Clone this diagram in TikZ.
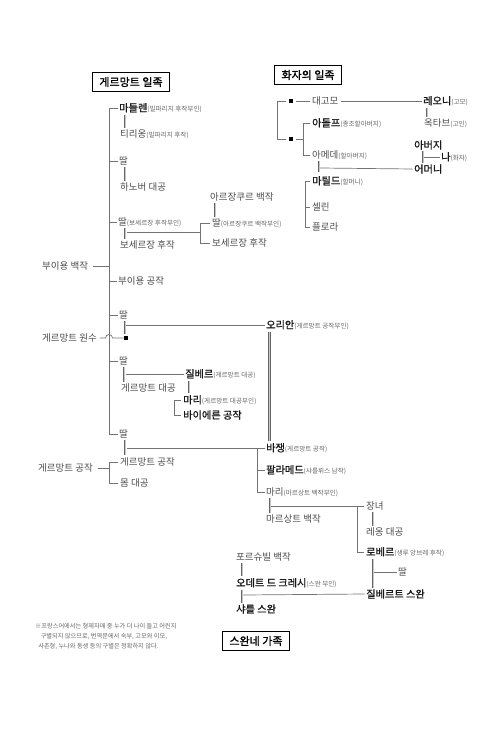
\documentclass[tikz,border=0pt]{standalone}
\usepackage{fontspec}
\setmainfont{Noto Sans CJK KR}[BoldFont={Noto Sans CJK KR}, BoldFeatures={FakeBold=1.2}]
\usepackage{tikz}
\usetikzlibrary{calc,positioning}
\newcommand{\sm}[1]{{\fontsize{6.6}{7}\selectfont\mdseries\color{black!60}(#1)}}

\begin{document}
\begin{tikzpicture}[x=1pt, y=-1pt,
  nm/.style={anchor=west, inner sep=0pt, font=\fontsize{10.2}{11}\selectfont\bfseries, text=black!90},
  gr/.style={anchor=west, inner sep=0pt, font=\fontsize{9.5}{11}\selectfont, text=black!70},
  title/.style={draw, line width=1pt, inner xsep=7pt, inner ysep=4.5pt, font=\fontsize{11}{12}\selectfont\bfseries},
  sq/.style={fill=black, minimum size=4.5pt, inner sep=0pt},
  ln/.style={draw=black!55, line width=0.7pt},
  wed/.style={draw=black!60, double=black!22, double distance=1pt, line width=0.8pt},
  note/.style={anchor=north west, inner sep=0pt, align=left, text=black!60, font=\fontsize{6.2}{10}\selectfont},
]
\useasboundingbox (0,0) rectangle (500,735);

% Titles
\node[title] (tG) at (131,82) {게르망트 일족};
\node[title] (tN) at (308,75) {화자의 일족};
\node[title] (tS) at (256,641) {스완네 가족};

% Guermantes
\node[nm] (madeleine) at (119,108) {마들렌\sm{빌파리지 후작부인}};
\node[gr] (thiriong) at (120,134) {티리옹\sm{빌파리지 후작}};
\node[gr] (ddalA) at (119,161) {딸};
\node[gr] (hanover) at (120,187) {하노버 대공};
\node[gr] (ddalB) at (118,222) {딸\sm{보세르장 후작부인}};
\node[gr] (beausergentL) at (120,245) {보세르장 후작};
\node[gr] (argencourt) at (210,197) {아르장쿠르 백작};
\node[gr] (ddalC) at (212,223) {딸\sm{아르장쿠르 백작부인}};
\node[gr] (beausergentR) at (212,243) {보세르장 후작};
\node[gr] (bouillonC) at (42,266) {부이용 백작};
\node[gr] (bouillonD) at (118,281) {부이용 공작};
\node[gr] (ddalD) at (119,315) {딸};
\node[gr] (marechal) at (42,338) {게르망트 원수};
\node[sq] (sqG) at (126,338) {};
\node[gr] (ddalE) at (119,361) {딸};
\node[gr] (princeG) at (121,388) {게르망트 대공};
\node[nm] (gilbertG) at (185,374) {질베르\sm{게르망트 대공}};
\node[nm] (marieG) at (183,400) {마리\sm{게르망트 대공부인}};
\node[nm] (bavaria) at (183,415) {바이에른 공작};
\node[gr] (ddalF) at (119,434) {딸};
\node[gr] (ducL) at (38,468) {게르망트 공작};
\node[gr] (ducG) at (120,462) {게르망트 공작};
\node[gr] (mum) at (120,483) {몸 대공};

\node[nm] (oriane) at (266,325) {오리안\sm{게르망트 공작부인}};
\node[nm] (basin) at (266,448) {바쟁\sm{게르망트 공작}};
\node[nm] (palamede) at (266,470) {팔라메드\sm{샤를뤼스 남작}};
\node[gr] (marieM) at (266,492) {마리\sm{마르상트 백작부인}};
\node[gr] (marsantes) at (266,519) {마르상트 백작};
\node[gr] (ainee) at (366,506) {장녀};
\node[gr] (leon) at (366,532) {레옹 대공};
\node[nm] (robert) at (366,552) {로베르\sm{생루 앙브레 후작}};
\node[gr] (ddalG) at (398,572) {딸};
\node[nm] (gilberte) at (366,594) {질베르트 스완};

% Swann
\node[gr] (forcheville) at (236,557) {포르슈빌 백작};
\node[nm] (odette) at (236,583) {오데트 드 크레시\sm{스완 부인}};
\node[nm] (swann) at (236,609) {샤를 스완};

% Narrator
\node[sq] (sq1) at (291,101) {};
\node[sq] (sq2) at (291,139) {};
\node[gr] (tante) at (312,101) {대고모};
\node[nm] (leonie) at (423,101) {레오니\sm{고모}};
\node[gr] (octave) at (424,123) {옥타브\sm{고인}};
\node[nm] (adolphe) at (312,123) {아돌프\sm{종조할아버지}};
\node[gr] (amedee) at (312,155) {아메데\sm{할아버지}};
\node[nm] (pere) at (414,145) {아버지};
\node[nm] (moi) at (441,157) {나\sm{화자}};
\node[nm] (mere) at (414,169) {어머니};
\node[nm] (mathilde) at (312,181) {마틸드\sm{할머니}};
\node[gr] (celine) at (312,207) {셀린};
\node[gr] (flora) at (312,227) {플로라};

% Note
\node[note] (fn) at (35,623) {※프랑스어에서는 형제자매 중 누가 더 나이 들고 어린지\\
\hspace{0.9em}구별되지 않으므로, 번역문에서 숙부, 고모와 이모,\\
\hspace{0.5em}사촌형, 누나와 동생 등의 구별은 정확하지 않다.};

% Spines
\coordinate (spine) at (109,0);
\coordinate (bA) at (200,0);
\coordinate (bN) at (303,0);
\draw[ln] ([xshift=-1.5pt]madeleine.west) -| (spine |- ddalF.west) -- ([xshift=-1.5pt]ddalF.west);
\foreach \n in {ddalA, ddalB, bouillonD, ddalD, ddalE}
  \draw[ln] ([xshift=-1.5pt]\n.west) -- (spine |- \n.west);
\draw[ln] ([xshift=5pt]bouillonC.east) -- (spine |- bouillonC.east);
\draw[ln] ([xshift=3pt]marechal.east) -- ([xshift=-3.5pt]spine |- marechal.east)
  arc[start angle=180, end angle=0, radius=3.5pt] -- (sqG.west);
\draw[ln] ([xshift=5pt]ducL.east) -- (spine |- ducL.east);
\draw[ln] ([xshift=-2pt]ducG.west) -- (spine |- ducG.west) |- ([xshift=-2pt]mum.west);
\draw[ln] ([xshift=-2pt]ddalC.west) -| (bA |- beausergentR.west) -- ([xshift=-2pt]beausergentR.west);
\draw[ln] ([xshift=-2pt]marieG.west) -- ++(-7,0) |- ([xshift=-2pt]bavaria.west);
\draw[ln] ([xshift=-1.5pt]basin.west) -- ++(-7,0) |- ([xshift=-1.5pt]marieM.west);
\draw[ln] ([xshift=-1.5pt]palamede.west) -- ++(-7,0);
\draw[ln] ([xshift=-2pt]ainee.west) -- ++(-7,0) |- ([xshift=-2pt]robert.west);

% Marriages
\foreach \a/\b/\dx in {madeleine/thiriong/6, ddalA/hanover/6, ddalB/beausergentL/7,
    argencourt/ddalC/5, ddalD/sqG/6, ddalE/princeG/5, gilbertG/marieG/4,
    oriane/basin/3.5, marieM/marsantes/4, ainee/leon/7, robert/gilberte/7,
    forcheville/odette/6, odette/swann/6, leonie/octave/4, pere/mere/9}
  \draw[wed] ($(\a.south west)+(\dx,1.5)$) coordinate (w) -- ($(w |- \b.north)+(0,-1.5)$);
\draw[wed] ($(ddalF.south west)+(6,1.5)$) -- ++(0,15);
\draw[wed] ($(amedee.south west)+(7,1.5)$) -- ++(0,11);

% Children
\coordinate (jB) at (126.5,232);
\coordinate (jD) at (126,325);
\coordinate (jE) at (125.5,374);
\coordinate (jF) at (126.5,448);
\coordinate (jM) at (271,506);
\coordinate (jR) at (374,572);
\coordinate (jO) at (243,595);
\coordinate (jA) at (320,168);
\coordinate (jP) at (424,157);
\draw[ln] (jB) -- (bA |- jB);
\draw[ln] (jD) -- ([xshift=-1.5pt]oriane.west);
\draw[ln] (jE) -- ([xshift=-1.5pt]gilbertG.west);
\draw[ln] (jF) -- ([xshift=-8.5pt]basin.west);
\draw[ln] (jM) -- ([xshift=-9pt]ainee.west);
\draw[ln] (jR) -- ([xshift=-1.5pt]ddalG.west);
\draw[ln] (jO) -- ([xshift=-1.5pt]gilberte.west);

% Narrator lines
\draw[ln] ([xshift=-3pt]sq1.west) -- ++(-8,0) |- ([xshift=-3pt]sq2.west);
\draw[ln] ([xshift=3pt]sq1.east) -- ([xshift=-2pt]tante.west);
\draw[ln] ([xshift=2pt]tante.east) -- ([xshift=-1.5pt]leonie.west);
\draw[ln] ([xshift=3pt]sq2.east) -- (bN |- sq2.east);
\draw[ln] ([xshift=-2pt]adolphe.west) -| (bN |- amedee.west) -- ([xshift=-2pt]amedee.west);
\draw[ln] (jA) -- ([xshift=-1.5pt]mere.west);
\draw[ln] (jP) -- ([xshift=-1.5pt]moi.west);
\draw[ln] ([xshift=-2pt]mathilde.west) -- ++(-5,0) |- ([xshift=-2pt]flora.west);
\draw[ln] ([xshift=-2pt]celine.west) -- ++(-5,0);
\end{tikzpicture}
\end{document}
